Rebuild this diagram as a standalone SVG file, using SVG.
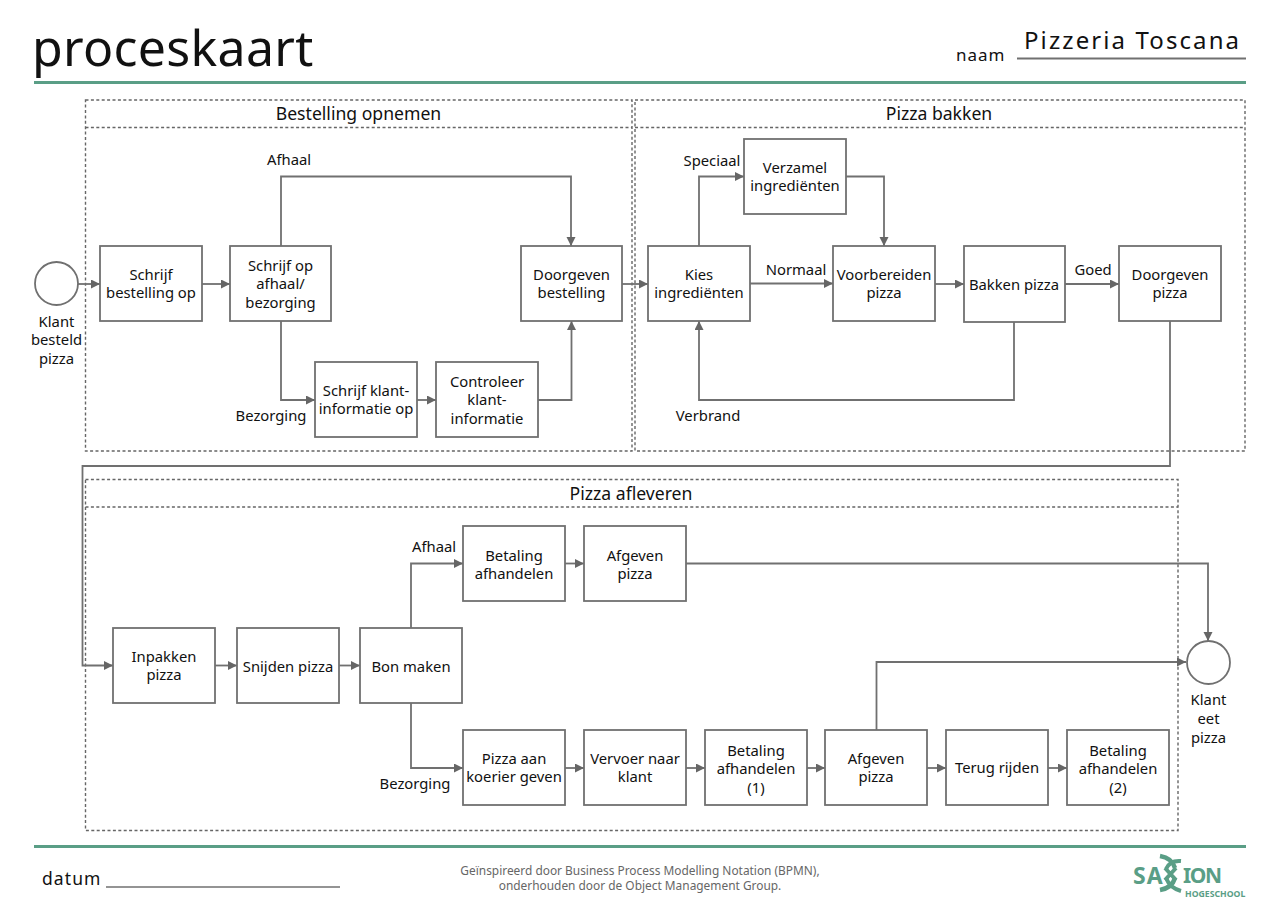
<svg xmlns="http://www.w3.org/2000/svg" width="1280" height="904" viewBox="0 0 1280 904">
<style>
text{font-family:"Noto Sans","Open Sans","DejaVu Sans",sans-serif;fill:#111;font-size:14.8px;text-anchor:middle}
.l{text-anchor:start}
.b{fill:#fff;stroke:#707070;stroke-width:1.8}
.c{fill:none;stroke:#707070;stroke-width:1.8}
.lane{fill:none;stroke:#666;stroke-width:1.4;stroke-dasharray:3 2.4}
.h{font-size:17.6px}
.s{fill:none;stroke:#5a9e86}
</style>
<defs><marker id="a" markerUnits="userSpaceOnUse" markerWidth="10" markerHeight="10" refX="9" refY="4.500" orient="auto"><path d="M0 0L9 4.500L0 9Z" fill="#666"/></marker></defs>
<rect width="1280" height="904" fill="#fff"/>
<g id="header">
<text class="l" x="32" y="66" style="font-size:50px;letter-spacing:.3px">proceskaart</text>
<text class="l" x="956" y="61" style="font-size:17px;letter-spacing:1px">naam</text>
<text class="l" x="1024" y="48.500" style="font-size:24px;letter-spacing:2.100px">Pizzeria Toscana</text>
<path d="M1017 58.500H1246" stroke="#707070" stroke-width="2"/>
<path d="M34 82.500H1246" stroke="#5a9e86" stroke-width="3"/>
</g>
<g id="lanes">
<g id="lane-bestelling"><rect class="lane" x="85.500" y="100" width="546.500" height="351"/><path class="lane" d="M85.500 127.500H632"/><text class="h" x="358.500" y="119.500">Bestelling opnemen</text></g>
<g id="lane-bakken"><rect class="lane" x="635" y="100" width="610" height="351"/><path class="lane" d="M635 127.500H1245"/><text class="h" x="939" y="119.500">Pizza bakken</text></g>
<g id="lane-afleveren"><rect class="lane" x="85.500" y="479.500" width="1092.500" height="351"/><path class="lane" d="M85.500 507H1178"/><text class="h" x="631" y="499.500">Pizza afleveren</text></g>
</g>
<g id="connectors">
<path class="c" marker-end="url(#a)" d="M78 284H100"/>
<path class="c" marker-end="url(#a)" d="M202 284H230"/>
<path class="c" marker-end="url(#a)" d="M281 246V176.500H571V246"/>
<path class="c" marker-end="url(#a)" d="M281 321V400H315"/>
<path class="c" marker-end="url(#a)" d="M417 400H436"/>
<path class="c" marker-end="url(#a)" d="M538 400H571.500V321"/>
<path class="c" marker-end="url(#a)" d="M622 284H648"/>
<path class="c" marker-end="url(#a)" d="M699 246V176.500H744"/>
<path class="c" marker-end="url(#a)" d="M846 176.500H884V246"/>
<path class="c" marker-end="url(#a)" d="M750 283.500H833"/>
<path class="c" marker-end="url(#a)" d="M935 284H964"/>
<path class="c" marker-end="url(#a)" d="M1065 284H1119"/>
<path class="c" marker-end="url(#a)" d="M1014 322V400H699V321"/>
<path class="c" marker-end="url(#a)" d="M1170 321V466H82.500V665.500H113"/>
<path class="c" marker-end="url(#a)" d="M215 665.500H237"/>
<path class="c" marker-end="url(#a)" d="M339 665.500H360"/>
<path class="c" marker-end="url(#a)" d="M411 628V563.500H463"/>
<path class="c" marker-end="url(#a)" d="M411 703V768H463"/>
<path class="c" marker-end="url(#a)" d="M565 563.500H584"/>
<path class="c" marker-end="url(#a)" d="M686 563.500H1208V641"/>
<path class="c" marker-end="url(#a)" d="M565 768H584"/>
<path class="c" marker-end="url(#a)" d="M686 768H705"/>
<path class="c" marker-end="url(#a)" d="M807 768H825"/>
<path class="c" marker-end="url(#a)" d="M927 768H946"/>
<path class="c" marker-end="url(#a)" d="M1048 768H1067"/>
<path class="c" marker-end="url(#a)" d="M876.500 730V662H1186"/>
</g>
<g id="connector-labels">
<text x="289" y="165">Afhaal</text>
<text x="271" y="421">Bezorging</text>
<text x="712" y="166">Speciaal</text>
<text x="796" y="275">Normaal</text>
<text x="1093" y="275">Goed</text>
<text x="708" y="421">Verbrand</text>
<text x="434" y="552">Afhaal</text>
<text x="415" y="789">Bezorging</text>
</g>
<g id="start"><circle class="b" cx="56.500" cy="283.500" r="21.500"/><text x="56.500" y="327">Klant</text><text x="56.500" y="345">besteld</text><text x="56.500" y="364">pizza</text></g>
<g id="end"><circle class="b" cx="1208.500" cy="662.500" r="21.500"/><text x="1208.500" y="705">Klant</text><text x="1208.500" y="724">eet</text><text x="1208.500" y="743">pizza</text></g>
<g id="n1"><rect class="b" x="100" y="246" width="102" height="75"/><text x="151" y="280">Schrijf</text><text x="151" y="298">bestelling op</text></g>
<g id="n2"><rect class="b" x="230" y="246" width="101" height="75"/><text x="280.500" y="271">Schrijf op</text><text x="280.500" y="289">afhaal/</text><text x="280.500" y="308">bezorging</text></g>
<g id="n3"><rect class="b" x="521" y="246" width="101" height="75"/><text x="571.500" y="280">Doorgeven</text><text x="571.500" y="298">bestelling</text></g>
<g id="n4"><rect class="b" x="315" y="362" width="102" height="75"/><text x="366" y="396">Schrijf klant-</text><text x="366" y="414">informatie op</text></g>
<g id="n5"><rect class="b" x="436" y="362" width="102" height="75"/><text x="487" y="387">Controleer</text><text x="487" y="405">klant-</text><text x="487" y="424">informatie</text></g>
<g id="n6"><rect class="b" x="648" y="246" width="102" height="75"/><text x="699" y="280">Kies</text><text x="699" y="298">ingrediënten</text></g>
<g id="n7"><rect class="b" x="744" y="139" width="102" height="75"/><text x="795" y="173">Verzamel</text><text x="795" y="191">ingrediënten</text></g>
<g id="n8"><rect class="b" x="833" y="246" width="102" height="75"/><text x="884" y="280">Voorbereiden</text><text x="884" y="298">pizza</text></g>
<g id="n9"><rect class="b" x="964" y="246" width="101" height="76"/><text x="1014" y="290">Bakken pizza</text></g>
<g id="n10"><rect class="b" x="1119" y="246" width="102" height="75"/><text x="1170" y="280">Doorgeven</text><text x="1170" y="298">pizza</text></g>
<g id="n11"><rect class="b" x="113" y="628" width="102" height="75"/><text x="164" y="662">Inpakken</text><text x="164" y="680">pizza</text></g>
<g id="n12"><rect class="b" x="237" y="628" width="102" height="75"/><text x="288" y="672">Snijden pizza</text></g>
<g id="n13"><rect class="b" x="360" y="628" width="102" height="75"/><text x="411" y="672">Bon maken</text></g>
<g id="n14"><rect class="b" x="463" y="526" width="102" height="75"/><text x="514" y="561">Betaling</text><text x="514" y="579">afhandelen</text></g>
<g id="n15"><rect class="b" x="584" y="526" width="102" height="75"/><text x="635" y="561">Afgeven</text><text x="635" y="579">pizza</text></g>
<g id="n16"><rect class="b" x="463" y="730" width="102" height="75"/><text x="514" y="764">Pizza aan</text><text x="514" y="782">koerier geven</text></g>
<g id="n17"><rect class="b" x="584" y="730" width="102" height="75"/><text x="635" y="764">Vervoer naar</text><text x="635" y="782">klant</text></g>
<g id="n18"><rect class="b" x="705" y="730" width="102" height="75"/><text x="756" y="756">Betaling</text><text x="756" y="774">afhandelen</text><text x="756" y="793">(1)</text></g>
<g id="n19"><rect class="b" x="825" y="730" width="102" height="75"/><text x="876" y="764">Afgeven</text><text x="876" y="782">pizza</text></g>
<g id="n20"><rect class="b" x="946" y="730" width="102" height="75"/><text x="997" y="773">Terug rijden</text></g>
<g id="n21"><rect class="b" x="1067" y="730" width="102" height="75"/><text x="1118" y="756">Betaling</text><text x="1118" y="774">afhandelen</text><text x="1118" y="793">(2)</text></g>
<g id="footer">
<path d="M34 846.500H1246" stroke="#5a9e86" stroke-width="3"/>
<text class="l" x="42" y="885" style="font-size:17.500px;letter-spacing:1.100px">datum</text>
<path d="M106 887H340" stroke="#707070" stroke-width="1.600"/>
<text x="640" y="875" style="font-size:11.900px;fill:#666">Geïnspireerd door Business Process Modelling Notation (BPMN),</text>
<text x="640" y="890" style="font-size:11.900px;fill:#666">onderhouden door de Object Management Group.</text>
</g>
<g id="logo">
<text class="l" x="1133" y="884" style="font-size:23px;font-weight:700;fill:#5a9e86;letter-spacing:1px">SA</text>
<path class="s" stroke-width="4.500" d="M1160 856Q1172 858 1175 868M1160 890Q1172 888 1175 878"/>
<path class="s" stroke-width="4" d="M1181 861Q1170 860 1166 869M1166 878Q1170 888 1181 891"/>
<path class="s" stroke-width="4" d="M1165 868L1176 880M1176 868L1165 880"/>
<text class="l" x="1183" y="883" style="font-size:21px;font-weight:700;fill:#5a9e86;letter-spacing:-1.400px">ION</text>
<text class="l" x="1185" y="897" style="font-size:8.700px;font-weight:700;fill:#5a9e86">HOGESCHOOL</text>
</g>
</svg>
